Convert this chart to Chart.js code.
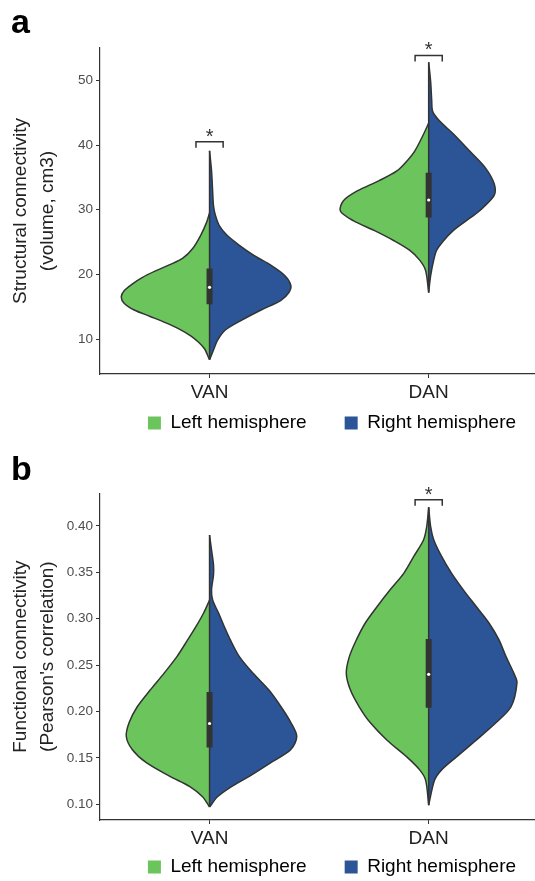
<!DOCTYPE html>
<html>
<head>
<meta charset="utf-8">
<script src="https://cdn.jsdelivr.net/npm/chart.js@4.4.1/dist/chart.umd.min.js"></script>
<style>
  html, body { margin: 0; padding: 0; background: #fff; overflow: hidden; }
  body { width: 535px; height: 881px; position: relative; }
  canvas { position: absolute; left: 0; }
  #volChart { top: 0; }
  #corChart { top: 440px; }
</style>
</head>
<body>
<canvas id="volChart" width="568" height="475"></canvas>
<canvas id="corChart" width="568" height="480"></canvas>
<script>
const categories = ['VAN', 'DAN'];
const seriesNames = ['Left hemisphere', 'Right hemisphere'];

// panel a - structural connectivity (volume, cm3)
// violin outlines: y levels and half widths (x units)
const volVanLeftY  = [29.5, 28, 26, 24, 22.5, 21.5, 20.5, 19.5, 18.5, 17.5, 16.5, 15.5, 14.5, 13.5, 12.5, 11.5, 10.5, 9.5, 8.5, 7.5, 6.8];
const volVanLeftW  = [0, .014, .041, .077, .122, .181, .249, .308, .353, .389, .403, .389, .344, .271, .199, .136, .086, .05, .023, .009, 0];
const volVanRightY = [39.1, 36.0, 32.9, 30.6, 29.1, 27.5, 26.0, 24.5, 22.9, 21.4, 19.8, 18.3, 17.2, 16.0, 14.5, 12.9, 11.4, 9.8, 8.3, 6.8];
const volVanRightW = [0, .009, .014, .018, .027, .045, .081, .136, .204, .281, .344, .371, .362, .326, .235, .145, .072, .036, .018, 0];
const volDanLeftY  = [43.4, 41.7, 39.1, 37.5, 36.0, 34.5, 32.9, 31.4, 29.8, 28.3, 26.8, 25.2, 23.7, 22.2, 20.6, 17.2];
const volDanLeftW  = [0, .023, .063, .1, .145, .226, .326, .389, .403, .344, .249, .158, .086, .041, .014, 0];
const volDanRightY = [52.8, 49.8, 46.8, 45.2, 43.7, 41.7, 39.1, 36.5, 34.0, 32.2, 29.8, 28.3, 26.8, 25.2, 23.7, 22.2, 19.8, 17.2];
const volDanRightW = [0, .009, .014, .018, .05, .113, .186, .258, .299, .299, .231, .172, .113, .068, .036, .023, .009, 0];
// [q1, median, q3] per category
const volBox = [[15.4, 18.0, 20.9], [28.8, 31.5, 35.7]];
const volTicks = [10, 20, 30, 40, 50];
const volSig = [{cat: 0, y: 40.5}, {cat: 1, y: 53.85}];

// panel b - functional connectivity (Pearson's correlation)
const corVanLeftY  = [0.320, 0.306, 0.291, 0.277, 0.259, 0.241, 0.223, 0.205, 0.188, 0.173, 0.159, 0.145, 0.130, 0.119, 0.108, 0.097];
const corVanLeftW  = [0, .027, .063, .1, .149, .208, .271, .33, .367, .38, .353, .29, .181, .09, .032, 0];
const corVanRightY = [0.390, 0.374, 0.358, 0.347, 0.331, 0.320, 0.306, 0.291, 0.277, 0.259, 0.241, 0.223, 0.205, 0.188, 0.173, 0.159, 0.145, 0.130, 0.119, 0.108, 0.097];
const corVanRightW = [0, .009, .018, .018, .009, .014, .041, .068, .095, .136, .199, .271, .326, .371, .398, .371, .281, .181, .1, .036, 0];
const corDanLeftY  = [0.420, 0.399, 0.385, 0.367, 0.349, 0.331, 0.313, 0.295, 0.277, 0.259, 0.241, 0.223, 0.205, 0.188, 0.169, 0.151, 0.137, 0.126, 0.099];
const corDanLeftW  = [0, .009, .023, .068, .113, .176, .235, .29, .33, .362, .376, .357, .317, .267, .19, .1, .041, .014, 0];
const corDanRightY = [0.420, 0.399, 0.385, 0.367, 0.349, 0.331, 0.313, 0.295, 0.277, 0.259, 0.241, 0.231, 0.205, 0.188, 0.169, 0.151, 0.137, 0.126, 0.099];
const corDanRightW = [0, .009, .023, .059, .104, .158, .217, .276, .321, .353, .389, .403, .376, .308, .217, .127, .059, .027, 0];
const corBox = [[0.161, 0.187, 0.221], [0.204, 0.240, 0.278]];
const corTicks = [0.10, 0.15, 0.20, 0.25, 0.30, 0.35, 0.40];
const corSig = [{cat: 1, y: 0.428}];

const GREEN = '#6cc55c';
const BLUE = '#2c5597';
const INK = '#333333';
const FONT = '"Liberation Sans", Arial, sans-serif';

function halfViolin(cat, ys, ws, side) {
  return ys.map((y, i) => ({x: cat + 1 + side * ws[i], y: y}));
}

// brackets, stars and the panel letter
const marks = {
  id: 'marks',
  afterDraw(chart, args, opts) {
    const {ctx} = chart;
    const x = chart.scales.x, y = chart.scales.y;
    ctx.save();
    ctx.fillStyle = '#000';
    ctx.font = 'bold 34px ' + FONT;
    ctx.textAlign = 'left';
    ctx.textBaseline = 'alphabetic';
    ctx.fillText(opts.letter, 11, opts.letterY);

    ctx.strokeStyle = INK;
    ctx.lineWidth = 1.5;
    ctx.fillStyle = INK;
    ctx.font = '20px ' + FONT;
    ctx.textAlign = 'center';
    opts.sig.forEach(s => {
      const x1 = x.getPixelForValue(s.cat + 1 - 0.062);
      const x2 = x.getPixelForValue(s.cat + 1 + 0.062);
      const yt = y.getPixelForValue(s.y);
      ctx.beginPath();
      ctx.moveTo(x1, yt + 6);
      ctx.lineTo(x1, yt);
      ctx.lineTo(x2, yt);
      ctx.lineTo(x2, yt + 6);
      ctx.stroke();
      ctx.fillText('*', x.getPixelForValue(s.cat + 1), yt + 1);
    });
    ctx.restore();
  }
};

// pull the legend up under the axis labels
const legendShift = {
  id: 'legendShift',
  afterLayout(chart, args, opts) {
    const l = chart.legend;
    if (!l) return;
    l.top -= opts.dy;
    l.bottom -= opts.dy;
  }
};

function buildChart(id, p) {
  const datasets = [];

  datasets.push({
    data: p.box.map((b, i) => ({x: i + 1, y: b[1]})),
    showLine: false, pointRadius: 1.6, pointBackgroundColor: '#fff', pointBorderWidth: 0
  });

  const boxPts = [];
  p.box.forEach((b, i) => boxPts.push({x: i + 1, y: b[0]}, {x: i + 1, y: b[2]}, {x: i + 1, y: null}));
  datasets.push({data: boxPts, borderColor: INK, borderWidth: 6, borderCapStyle: 'butt', pointRadius: 0, spanGaps: false});

  const centre = [];
  p.left.forEach((l, i) => {
    const r = p.right[i];
    const all = l.y.concat(r.y);
    centre.push({x: i + 1, y: Math.min(...all)}, {x: i + 1, y: Math.max(...all)}, {x: i + 1, y: null});
  });
  datasets.push({data: centre, borderColor: INK, borderWidth: 1.5, pointRadius: 0, spanGaps: false});

  p.left.forEach((l, i) => {
    const r = p.right[i];
    datasets.push({data: halfViolin(i, l.y, l.w, -1), backgroundColor: GREEN, borderColor: INK,
      borderWidth: 1.5, fill: 'shape', tension: 0.3, pointRadius: 0});
    datasets.push({data: halfViolin(i, r.y, r.w, 1), backgroundColor: BLUE, borderColor: INK,
      borderWidth: 1.5, fill: 'shape', tension: 0.3, pointRadius: 0});
  });

  return new Chart(document.getElementById(id), {
    type: 'line',
    data: {datasets},
    plugins: [marks, legendShift],
    options: {
      responsive: false,
      animation: false,
      events: [],
      layout: {padding: {top: p.padTop, bottom: p.padBottom, left: 0, right: 0}},
      scales: {
        x: {
          type: 'linear', min: 0.5, max: 2.6176,
          afterFit: s => { s.height = 30; },
          afterBuildTicks: s => { s.ticks = categories.map((c, i) => ({value: i + 1})); },
          ticks: {callback: (v, i) => categories[i], color: '#222', padding: 3, font: {family: FONT, size: 19}},
          grid: {drawOnChartArea: false, drawTicks: true, tickLength: 4, color: INK},
          border: {display: true, color: INK, width: 1.2}
        },
        y: {
          type: 'linear', min: p.yMin, max: p.yMax,
          afterFit: s => { s.width = 100; },
          afterBuildTicks: s => { s.ticks = p.ticks.map(v => ({value: v})); },
          ticks: {callback: p.fmt, color: '#4d4d4d', padding: 3, font: {family: FONT, size: 13.5}},
          grid: {drawOnChartArea: false, drawTicks: true, tickLength: 4, color: INK},
          border: {display: true, color: INK, width: 1.2},
          title: {display: true, text: p.title, color: '#222', padding: {top: 7, bottom: 0},
            font: {family: FONT, size: 19, lineHeight: '27px'}}
        }
      },
      plugins: {
        tooltip: {enabled: false},
        legend: {
          position: 'bottom', fullSize: false, onClick: null,
          labels: {
            boxWidth: 13, boxHeight: 13, padding: 38, color: '#222', font: {family: FONT, size: 19},
            generateLabels: () => seriesNames.map((t, i) => ({
              text: t, fillStyle: [GREEN, BLUE][i], strokeStyle: 'rgba(0,0,0,0)', lineWidth: 0, hidden: false
            }))
          }
        },
        legendShift: {dy: p.legendDy},
        marks: {letter: p.letter, letterY: p.letterY, sig: p.sig}
      }
    }
  });
}

buildChart('volChart', {
  left: [{y: volVanLeftY, w: volVanLeftW}, {y: volDanLeftY, w: volDanLeftW}],
  right: [{y: volVanRightY, w: volVanRightW}, {y: volDanRightY, w: volDanRightW}],
  box: volBox, ticks: volTicks, sig: volSig,
  yMin: 4.6, yMax: 55, fmt: v => String(v),
  title: ['Structural connectivity', '(volume, cm3)'],
  letter: 'a', letterY: 33,
  padTop: 48, padBottom: 4, legendDy: 28.5
});

buildChart('corChart', {
  left: [{y: corVanLeftY, w: corVanLeftW}, {y: corDanLeftY, w: corDanLeftW}],
  right: [{y: corVanRightY, w: corVanRightW}, {y: corDanRightY, w: corDanRightW}],
  box: corBox, ticks: corTicks, sig: corSig,
  yMin: 0.083, yMax: 0.435, fmt: v => v.toFixed(2),
  title: ['Functional connectivity', "(Pearson's correlation)"],
  letter: 'b', letterY: 40,
  padTop: 53.3, padBottom: 3, legendDy: 30.5
});
</script>
</body>
</html>
